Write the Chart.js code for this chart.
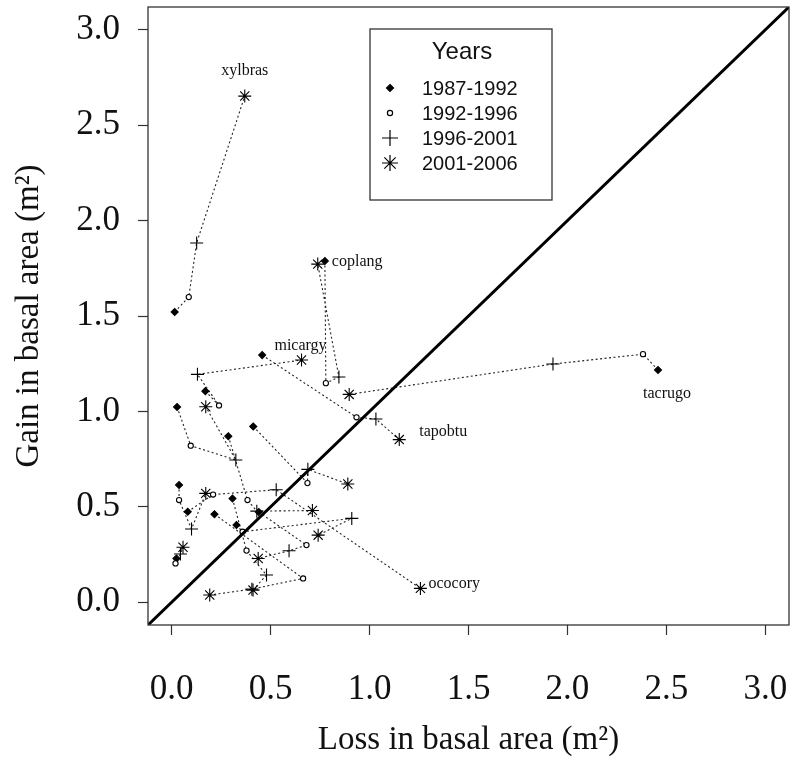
<!DOCTYPE html>
<html>
<head>
<meta charset="utf-8">
<script src="https://cdn.jsdelivr.net/npm/chart.js@4.4.1/dist/chart.umd.min.js"></script>
<style>
html, body { margin: 0; padding: 0; background: #fff; }
#wrap { width: 792px; height: 762px; position: relative; }
</style>
</head>
<body>
<div id="wrap"><canvas id="basalChart"></canvas></div>
<script>
// species, only some of them are labelled on the plot
const speciesNames = ['xylbras', 'coplang', 'tapobtu', 'micargy', 'tacrugo', 'ococory',
    '', '', '', '', '', '', '', '', ''];
const periods = ['1987-1992', '1992-1996', '1996-2001', '2001-2006'];

// loss / gain in basal area (m2) for each period
const loss8792 = [0.015, 0.774, 0.457, 0.170, 2.458, 0.081, 0.412, 0.027, 0.286, 0.327, 0.440, 0.037, 0.024, 0.307, 0.216];
const gain8792 = [1.521, 1.788, 1.295, 1.106, 1.217, 0.474, 0.921, 1.023, 0.870, 0.404, 0.472, 0.614, 0.229, 0.543, 0.461];
const loss9296 = [0.086, 0.779, 0.934, 0.239, 2.382, 0.209, 0.686, 0.096, 0.383, 0.358, 0.681, 0.037, 0.019, 0.378, 0.664];
const gain9296 = [1.599, 1.148, 0.969, 1.031, 1.300, 0.564, 0.624, 0.820, 0.535, 0.369, 0.299, 0.535, 0.203, 0.270, 0.124];
const loss9601 = [0.126, 0.845, 1.032, 0.130, 1.927, 0.528, 0.688, 0.324, 0.430, 0.910, 0.593, 0.100, 0.044, 0.479, 0.405];
const gain9601 = [1.883, 1.180, 0.960, 1.194, 1.248, 0.589, 0.696, 0.745, 0.477, 0.439, 0.269, 0.383, 0.252, 0.142, 0.068];
const loss0106 = [0.369, 0.738, 1.150, 0.656, 0.897, 1.257, 0.890, 0.172, 0.711, 0.740, 0.437, 0.172, 0.057, 0.411, 0.192];
const gain0106 = [2.653, 1.772, 0.852, 1.269, 1.089, 0.072, 0.619, 1.024, 0.480, 0.351, 0.229, 0.570, 0.288, 0.063, 0.037];

const tickValues = [0, 0.5, 1, 1.5, 2, 2.5, 3];
const axisMin = -0.12;
const axisMax = 3.12;

const lossByPeriod = [loss8792, loss9296, loss9601, loss0106];
const gainByPeriod = [gain8792, gain9296, gain9601, gain0106];

// marker look per period (diamond, open circle, plus, asterisk)
const periodStyle = ['rectRot', 'circle', 'cross', 'star'];
const periodRadius = [3.5, 2.6, 6.5, 6.5];
const periodFill = ['#000', '#fff', '#000', '#000'];

// where the species names sit: which point, pixel offset, alignment
const nameSpots = {
    xylbras: { p: 3, dx: 0, dy: -25, align: 'center' },
    coplang: { p: 0, dx: 7, dy: 1, align: 'left' },
    tapobtu: { p: 3, dx: 20, dy: -8, align: 'left' },
    micargy: { p: 3, dx: -1, dy: -14, align: 'center' },
    tacrugo: { p: 0, dx: 9, dy: 24, align: 'center' },
    ococory: { p: 3, dx: 8, dy: -5, align: 'left' }
};

const serif = "'Liberation Serif', 'Times New Roman', serif";
const sans = "'Liberation Sans', Arial, sans-serif";

const datasets = [{
    label: '1:1',
    data: [{ x: axisMin, y: axisMin }, { x: axisMax, y: axisMax }],
    showLine: true,
    borderColor: '#000',
    borderWidth: 3,
    pointRadius: 0
}];

speciesNames.forEach(function (name, i) {
    datasets.push({
        label: name,
        data: periods.map(function (p, k) {
            return { x: lossByPeriod[k][i], y: gainByPeriod[k][i] };
        }),
        showLine: true,
        borderColor: '#222',
        borderWidth: 1.1,
        borderDash: [2, 2.5],
        pointStyle: periodStyle,
        pointRadius: periodRadius,
        pointBackgroundColor: periodFill,
        pointBorderColor: '#000',
        pointBorderWidth: 1.1
    });
});

function drawMarker(ctx, style, x, y, r, fill) {
    ctx.beginPath();
    if (style === 'rectRot') {
        ctx.moveTo(x, y - r); ctx.lineTo(x + r, y); ctx.lineTo(x, y + r); ctx.lineTo(x - r, y);
        ctx.closePath();
        ctx.fillStyle = fill; ctx.fill();
    } else if (style === 'circle') {
        ctx.arc(x, y, r, 0, Math.PI * 2);
        ctx.fillStyle = fill; ctx.fill();
    } else {
        ctx.moveTo(x - r, y); ctx.lineTo(x + r, y);
        ctx.moveTo(x, y - r); ctx.lineTo(x, y + r);
        if (style === 'star') {
            const d = r * Math.SQRT1_2;
            ctx.moveTo(x - d, y - d); ctx.lineTo(x + d, y + d);
            ctx.moveTo(x - d, y + d); ctx.lineTo(x + d, y - d);
        }
    }
    ctx.stroke();
}

const extras = {
    id: 'extras',
    afterDraw: function (chart) {
        const ctx = chart.ctx;
        const area = chart.chartArea;
        ctx.save();

        // box round the plot
        ctx.strokeStyle = '#333';
        ctx.lineWidth = 1.3;
        ctx.strokeRect(area.left, area.top, area.right - area.left, area.bottom - area.top);

        // species names
        ctx.fillStyle = '#111';
        ctx.font = '16px ' + serif;
        ctx.textBaseline = 'middle';
        speciesNames.forEach(function (name, i) {
            const spot = nameSpots[name];
            if (!spot) return;
            const pt = chart.getDatasetMeta(i + 1).data[spot.p];
            ctx.textAlign = spot.align;
            ctx.fillText(name, pt.x + spot.dx, pt.y + spot.dy);
        });

        // legend
        const bx = area.left + 222, by = area.top + 22;
        const bw = 182, bh = 171;
        ctx.fillStyle = '#fff';
        ctx.fillRect(bx, by, bw, bh);
        ctx.strokeStyle = '#333';
        ctx.lineWidth = 1.3;
        ctx.strokeRect(bx, by, bw, bh);
        ctx.fillStyle = '#111';
        ctx.textAlign = 'center';
        ctx.font = '24px ' + sans;
        ctx.fillText('Years', bx + 92, by + 23);
        ctx.textAlign = 'left';
        ctx.font = '20px ' + sans;
        periods.forEach(function (p, k) {
            const ry = by + 59 + k * 25;
            ctx.strokeStyle = '#000';
            ctx.lineWidth = 1.2;
            drawMarker(ctx, periodStyle[k], bx + 20, ry, k < 2 ? periodRadius[k] : 8, periodFill[k]);
            ctx.fillStyle = '#111';
            ctx.fillText(p, bx + 52, ry + 1);
        });
        ctx.restore();
    }
};

const axisTicks = {
    display: true,
    drawOnChartArea: false,
    drawTicks: true,
    tickLength: 10,
    tickColor: '#333',
    tickWidth: 1.2
};

function setTicks(s) {
    s.ticks = tickValues.map(function (v) { return { value: v }; });
}

new Chart(document.querySelector('#basalChart'), {
    type: 'scatter',
    data: { datasets: datasets },
    options: {
        responsive: true,
        maintainAspectRatio: false,
        animation: false,
        events: [],
        layout: { autoPadding: false, padding: { top: 7, right: 3, left: 0, bottom: 0 } },
        plugins: {
            legend: { display: false },
            tooltip: { enabled: false }
        },
        scales: {
            x: {
                type: 'linear',
                min: axisMin,
                max: axisMax,
                afterBuildTicks: setTicks,
                afterFit: function (s) {
                    s.height = 137;
                    s.paddingLeft = 0;
                    s.paddingRight = 0;
                },
                grid: axisTicks,
                border: { display: false },
                ticks: {
                    autoSkip: false,
                    maxRotation: 0,
                    padding: 0,
                    color: '#111',
                    font: { family: serif, size: 35, lineHeight: '110px' },
                    callback: function (v) { return Number(v).toFixed(1); }
                },
                title: {
                    display: true,
                    text: 'Loss in basal area (m²)',
                    color: '#111',
                    font: { family: serif, size: 33 },
                    padding: { top: 0, bottom: 2 }
                }
            },
            y: {
                type: 'linear',
                min: axisMin,
                max: axisMax,
                afterBuildTicks: setTicks,
                afterFit: function (s) {
                    s.width = 148;
                    s.paddingTop = 0;
                    s.paddingBottom = 0;
                },
                grid: axisTicks,
                border: { display: false },
                ticks: {
                    autoSkip: false,
                    padding: 18,
                    color: '#111',
                    font: { family: serif, size: 35 },
                    callback: function (v) { return Number(v).toFixed(1); }
                },
                title: {
                    display: true,
                    text: 'Gain in basal area (m²)',
                    color: '#111',
                    font: { family: serif, size: 33 },
                    padding: { top: 10, bottom: 0 }
                }
            }
        }
    },
    plugins: [extras]
});
</script>
</body>
</html>
